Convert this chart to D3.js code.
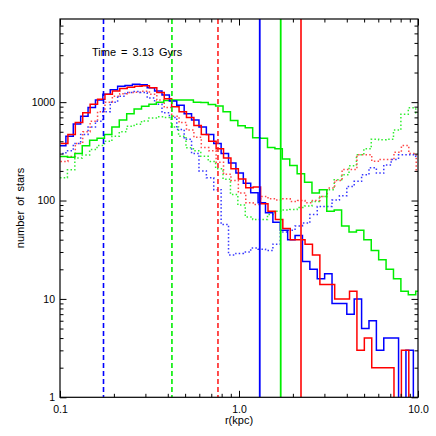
<!DOCTYPE html>
<html>
<head>
<meta charset="utf-8">
<script src="https://cdn.jsdelivr.net/npm/d3@7"></script>
<style>
  body { margin: 0; background: #fff; }
  svg { display: block; font-family: "Liberation Sans", Arial, sans-serif; }
</style>
</head>
<body>
<div id="chart"></div>
<script>
// log-spaced radial bins: log10 of first edge and bin width in dex
const blueBins = { lo: -1.0084, dex: 0.0413 };
const redBins = { lo: -0.9972, dex: 0.0414 };
const greenBins = { lo: -1.0, dex: 0.0414 };

// star counts per bin (solid = one population, dotted = the other)
const blueSolid = [360, 450, 600, 720, 880, 1050, 1200, 1340, 1450, 1480, 1520, 1500, 1400, 1300, 1180, 1030, 930, 760, 660, 560,
  470, 380, 300, 240, 190, 150, 120, 95, 75, 60, 50, 40, 44, 24, 20, 16, 18, 9, 9, 7, 10, 5, 6, 3, 4, 4, 0, 3, 0];
const redSolid = [380, 470, 620, 780, 950, 1070, 1200, 1300, 1380, 1420, 1450, 1470, 1400, 1250, 1080, 900, 800, 700, 580, 470,
  400, 335, 270, 210, 166, 135, 137, 93, 78, 64, 52, 40, 40, 36, 28, 14, 14, 10, 10, 12, 3, 4, 2, 2, 2, 0, 3, 0, 0];
const greenSolid = [280, 275, 300, 360, 410, 430, 470, 560, 660, 760, 850, 910, 950, 1000, 1040, 1050, 1050, 1050, 1000, 990,
  945, 915, 800, 650, 575, 550, 435, 430, 345, 335, 265, 227, 187, 153, 119, 129, 78, 80, 55, 48, 50, 40, 31, 25, 20, 16, 12, 11, 12];
const blueDotted = [300, 320, 380, 470, 560, 640, 800, 1000, 1150, 1250, 1280, 1250, 1100, 950, 780, 700, 527, 420, 300, 200,
  170, 129, 57, 28, 29, 30, 33, 32, 31, 36, 48, 50, 55, 59, 72, 87, 87, 101, 112, 139, 157, 183, 215, 190, 230, 262, 292, 292, 282];
const redDotted = [250, 280, 380, 500, 640, 800, 1000, 1150, 1220, 1250, 1260, 1290, 1200, 1050, 880, 720, 620, 520, 440, 345,
  320, 245, 185, 160, 119, 95, 91, 110, 104, 101, 104, 98, 100, 95, 100, 110, 134, 160, 207, 207, 292, 292, 251, 262, 262, 310, 362, 300, 200];
const greenDotted = [170, 205, 270, 290, 330, 362, 400, 450, 500, 570, 595, 645, 690, 710, 700, 560, 450, 343, 320, 282,
  250, 210, 165, 115, 90, 68, 64, 64, 72, 78, 80, 81, 85, 88, 98, 110, 129, 163, 183, 226, 292, 335, 420, 415, 420, 520, 755, 875, 780];

// vertical markers (kpc)
const dashedR = [0.175, 0.422, 0.763];
const solidR = [1.306, 1.71, 2.22];
const markerColors = ['#0000ff', '#00ee00', '#ff2020'];

const xMajor = [0.1, 1, 10];
const xMajorLabels = ['0.1', '1.0', '10.0'];
const yMajor = [1, 10, 100, 1000];
const yMajorLabels = ['1', '10', '100', '1000'];

const W = 436, H = 436;
const margin = { top: 19, right: 18, bottom: 38.7, left: 60 };
const width = W - margin.left - margin.right;
const height = H - margin.top - margin.bottom;

const x = d3.scaleLog().domain([0.1, 10]).range([0, width]);
const y = d3.scaleLog().domain([1, 7000]).range([height, 0]);

const svg = d3.select('#chart').append('svg')
  .attr('width', W)
  .attr('height', H);

const g = svg.append('g')
  .attr('transform', `translate(${margin.left}, ${margin.top})`);

g.append('clipPath').attr('id', 'plotClip')
  .append('rect').attr('width', width).attr('height', height);

const plot = g.append('g').attr('clip-path', 'url(#plotClip)');

function stepPoints(bins, values) {
  const pts = values.map((v, i) => [Math.pow(10, bins.lo + i * bins.dex), v]);
  pts.push([Math.pow(10, bins.lo + values.length * bins.dex), values[values.length - 1]]);
  return pts;
}

const step = d3.line()
  .x(d => x(d[0]))
  .y(d => y(Math.max(d[1], 0.3)))
  .curve(d3.curveStepAfter);

const series = [
  { values: greenDotted, bins: greenBins, color: '#30ee30', dash: '1.5,2.2' },
  { values: redDotted, bins: redBins, color: '#ff4848', dash: '1.5,2.2' },
  { values: blueDotted, bins: blueBins, color: '#3838ff', dash: '1.5,2.2' },
  { values: greenSolid, bins: greenBins, color: '#00ee00', dash: null },
  { values: blueSolid, bins: blueBins, color: '#0000ff', dash: null },
  { values: redSolid, bins: redBins, color: '#ff0000', dash: null },
];

series.forEach(s => {
  plot.append('path')
    .attr('d', step(stepPoints(s.bins, s.values)))
    .attr('fill', 'none')
    .attr('stroke', s.color)
    .attr('stroke-width', 1.5)
    .attr('stroke-dasharray', s.dash);
});

// radius markers
dashedR.forEach((r, i) => {
  plot.append('line')
    .attr('x1', x(r)).attr('x2', x(r))
    .attr('y1', 0).attr('y2', height)
    .attr('stroke', markerColors[i])
    .attr('stroke-width', 1.6)
    .attr('stroke-dasharray', '5,3');
});
solidR.forEach((r, i) => {
  plot.append('line')
    .attr('x1', x(r)).attr('x2', x(r))
    .attr('y1', 0).attr('y2', height)
    .attr('stroke', markerColors[i])
    .attr('stroke-width', 1.8);
});

// axes, IDL style: ticks inward on all four sides
function minorTicks(lo, hi) {
  const out = [];
  for (let d = lo; d < hi; d *= 10) {
    for (let m = 2; m <= 9; m++) if (d * m < hi) out.push(d * m);
  }
  return out;
}
const xMinor = minorTicks(0.1, 10);
const yMinor = minorTicks(1, 7000);

function styleAxis(sel) {
  sel.select('.domain').remove();
  sel.selectAll('line').attr('stroke', '#000');
  sel.selectAll('text').attr('fill', '#000').style('font-size', '10.5px');
}

g.append('g').attr('transform', `translate(0, ${height})`)
  .call(d3.axisBottom(x).tickValues(xMajor).tickSize(-6.5).tickPadding(8)
    .tickFormat((d, i) => xMajorLabels[i]))
  .call(styleAxis);
g.append('g').attr('transform', `translate(0, ${height})`)
  .call(d3.axisBottom(x).tickValues(xMinor).tickSize(-3.5).tickFormat(''))
  .call(styleAxis);
g.append('g')
  .call(d3.axisTop(x).tickValues(xMajor).tickSize(-6.5).tickFormat(''))
  .call(styleAxis);
g.append('g')
  .call(d3.axisTop(x).tickValues(xMinor).tickSize(-3.5).tickFormat(''))
  .call(styleAxis);

g.append('g')
  .call(d3.axisLeft(y).tickValues(yMajor).tickSize(-6.5).tickPadding(5)
    .tickFormat((d, i) => yMajorLabels[i]))
  .call(styleAxis);
g.append('g')
  .call(d3.axisLeft(y).tickValues(yMinor).tickSize(-3.5).tickFormat(''))
  .call(styleAxis);
g.append('g').attr('transform', `translate(${width}, 0)`)
  .call(d3.axisRight(y).tickValues(yMajor).tickSize(-6.5).tickFormat(''))
  .call(styleAxis);
g.append('g').attr('transform', `translate(${width}, 0)`)
  .call(d3.axisRight(y).tickValues(yMinor).tickSize(-3.5).tickFormat(''))
  .call(styleAxis);

g.append('rect')
  .attr('width', width).attr('height', height)
  .attr('fill', 'none')
  .attr('stroke', '#000')
  .attr('stroke-width', 1.2);

// labels
g.append('text')
  .attr('x', 32).attr('y', 37)
  .style('font-size', '11px')
  .style('word-spacing', '2px')
  .text('Time = 3.13 Gyrs');

svg.append('text')
  .attr('x', 239).attr('y', 424)
  .attr('text-anchor', 'middle')
  .style('font-size', '11px')
  .text('r(kpc)');

svg.append('text')
  .attr('transform', 'translate(24, 208) rotate(-90)')
  .attr('text-anchor', 'middle')
  .style('font-size', '11px')
  .style('word-spacing', '2px')
  .text('number of stars');
</script>
</body>
</html>
